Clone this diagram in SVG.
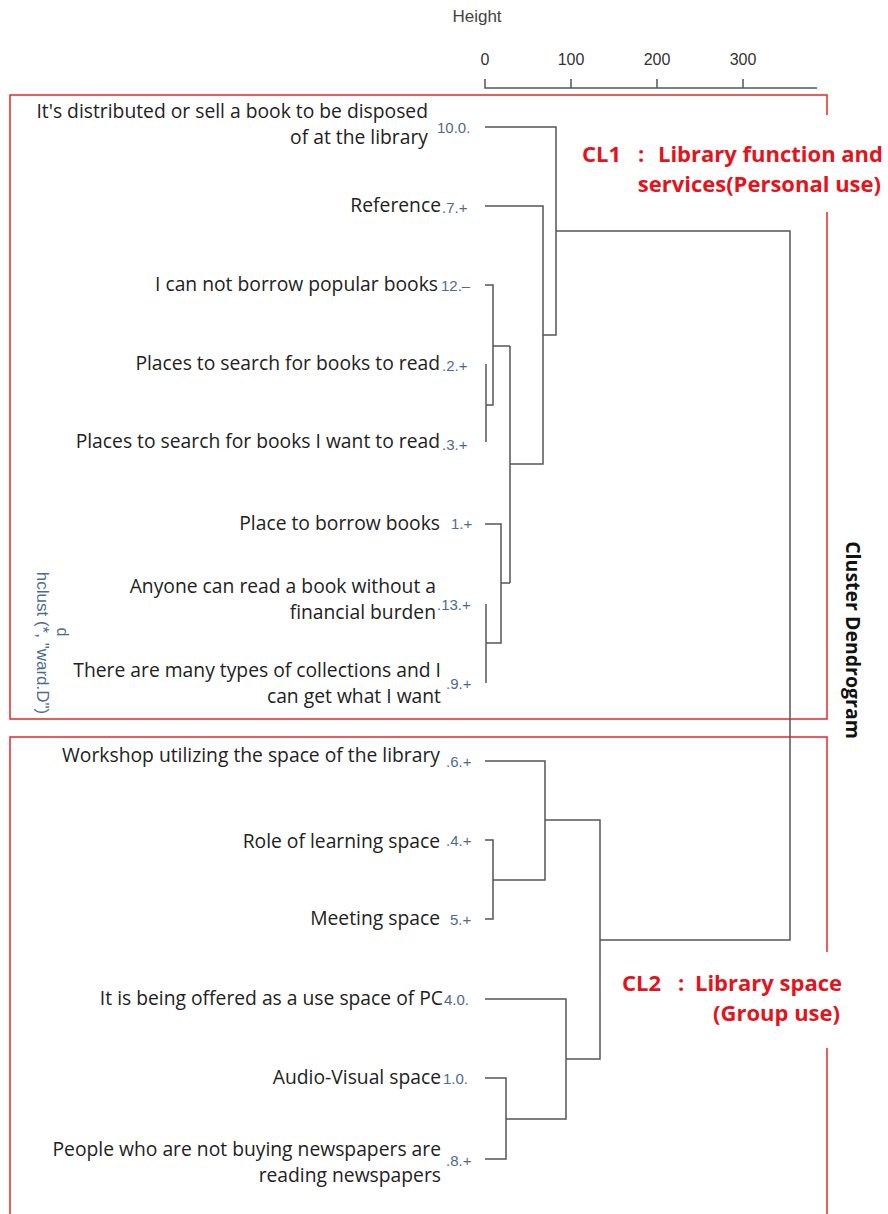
<svg xmlns="http://www.w3.org/2000/svg" width="888" height="1214" viewBox="0 0 888 1214">
  <style>
    .lbl { font-family: "Open Sans", "Liberation Sans", sans-serif; font-size: 19.3px; fill: #222; text-anchor: end; }
    .num { font-family: "Liberation Sans", Arial, sans-serif; font-size: 15px; fill: #4f6b8c; }
    .axis { font-family: "Liberation Sans", Arial, sans-serif; font-size: 16px; fill: #333; text-anchor: middle; }
    .cl { font-family: "Open Sans", "Liberation Sans", sans-serif; font-size: 22px; font-weight: bold; fill: #e3141c; }
    .end { text-anchor: end; }
    .tree { fill: none; stroke: #555; stroke-width: 1.5; }
    .box { fill: none; stroke: #e8262a; stroke-width: 1.5; }
  </style>
  <rect width="888" height="1214" fill="#fff"/>

  <!-- height axis -->
  <g id="axis">
    <text x="477" y="22" font-family="Liberation Sans, Arial, sans-serif" font-size="17" fill="#444" text-anchor="middle">Height</text>
    <text class="axis" x="485" y="65">0</text>
    <text class="axis" x="571" y="65">100</text>
    <text class="axis" x="657" y="65">200</text>
    <text class="axis" x="743" y="65">300</text>
    <path class="tree" d="M485 79V88H817M571 79V88M657 79V88M743 79V88"/>
  </g>

  <!-- cluster frames -->
  <g id="frames">
    <path class="box" d="M827 115V95H10V719H827V212"/>
    <path class="box" d="M827 952V737H10V1214M827 1048V1214"/>
  </g>

  <!-- titles -->
  <g id="titles">
    <text transform="translate(846 640) rotate(90)" font-family="Open Sans, Liberation Sans, sans-serif" font-size="19.5" font-weight="bold" fill="#111" text-anchor="middle">Cluster Dendrogram</text>
    <text transform="translate(37 643) rotate(90)" font-family="Liberation Sans, Arial, sans-serif" font-size="17" fill="#4f6b8c" text-anchor="middle">hclust (*, "ward.D")</text>
    <text transform="translate(57 632) rotate(90)" font-family="Liberation Sans, Arial, sans-serif" font-size="16" fill="#4f6b8c" text-anchor="middle">d</text>
  </g>

  <!-- cluster captions -->
  <g id="cl1">
    <text class="cl" x="582" y="162">CL1</text>
    <text class="cl" x="638" y="162">:</text>
    <text class="cl end" x="883" y="162">Library function and</text>
    <text class="cl end" x="881" y="192">services(Personal use)</text>
  </g>
  <g id="cl2">
    <text class="cl" x="622" y="991">CL2</text>
    <text class="cl" x="678" y="991">:</text>
    <text class="cl end" x="842" y="991">Library space</text>
    <text class="cl end" x="840" y="1021">(Group use)</text>
  </g>

  <!-- leaves -->
  <g id="leaf-10">
    <text class="lbl"><tspan x="428" y="118">It's distributed or sell a book to be disposed</tspan><tspan x="428" y="144">of at the library</tspan></text>
    <text class="num" x="437" y="133">10.0.</text>
  </g>
  <g id="leaf-7">
    <text class="lbl" x="441" y="212">Reference</text>
    <text class="num" x="442" y="213">.7.+</text>
  </g>
  <g id="leaf-12">
    <text class="lbl" x="438" y="291">I can not borrow popular books</text>
    <text class="num" x="441" y="291">12.–</text>
  </g>
  <g id="leaf-2">
    <text class="lbl" x="440" y="370">Places to search for books to read</text>
    <text class="num" x="442" y="371">.2.+</text>
  </g>
  <g id="leaf-3">
    <text class="lbl" x="440" y="448">Places to search for books I want to read</text>
    <text class="num" x="442" y="450">.3.+</text>
  </g>
  <g id="leaf-1">
    <text class="lbl" x="440" y="530">Place to borrow books</text>
    <text class="num" x="451" y="529">1.+</text>
  </g>
  <g id="leaf-13">
    <text class="lbl"><tspan x="436" y="593">Anyone can read a book without a</tspan><tspan x="436" y="619">financial burden</tspan></text>
    <text class="num" x="437" y="610">.13.+</text>
  </g>
  <g id="leaf-9">
    <text class="lbl"><tspan x="441" y="677">There are many types of collections and I</tspan><tspan x="441" y="703">can get what I want</tspan></text>
    <text class="num" x="446" y="689">.9.+</text>
  </g>
  <g id="leaf-6">
    <text class="lbl" x="440" y="762">Workshop utilizing the space of the library</text>
    <text class="num" x="446" y="767">.6.+</text>
  </g>
  <g id="leaf-4">
    <text class="lbl" x="440" y="848">Role of learning space</text>
    <text class="num" x="446" y="846">.4.+</text>
  </g>
  <g id="leaf-5">
    <text class="lbl" x="440" y="925">Meeting space</text>
    <text class="num" x="450" y="925">5.+</text>
  </g>
  <g id="leaf-pc">
    <text class="lbl" x="443" y="1005">It is being offered as a use space of PC</text>
    <text class="num" x="444" y="1005">4.0.</text>
  </g>
  <g id="leaf-av">
    <text class="lbl" x="441" y="1084">Audio-Visual space</text>
    <text class="num" x="443" y="1084">1.0.</text>
  </g>
  <g id="leaf-8">
    <text class="lbl"><tspan x="441" y="1156">People who are not buying newspapers are</tspan><tspan x="441" y="1182">reading newspapers</tspan></text>
    <text class="num" x="446" y="1166">.8.+</text>
  </g>

  <!-- dendrogram branches -->
  <g id="connectors" class="tree">
    <path d="M486 364V442"/>
    <path d="M485 285H493V405H486"/>
    <path d="M493 346H510"/>
    <path d="M486 604V683"/>
    <path d="M485 524H501V643H486"/>
    <path d="M501 583H510"/>
    <path d="M510 346V583"/>
    <path d="M485 206H543V464H510"/>
    <path d="M485 127H556V335H543"/>
    <path d="M556 231H790V940H600"/>
    <path d="M485 840H493V919H485"/>
    <path d="M485 761H545V880H493"/>
    <path d="M545 820H600V1059H566"/>
    <path d="M485 1078H506V1159H485"/>
    <path d="M485 999H566V1119H506"/>
  </g>
</svg>
